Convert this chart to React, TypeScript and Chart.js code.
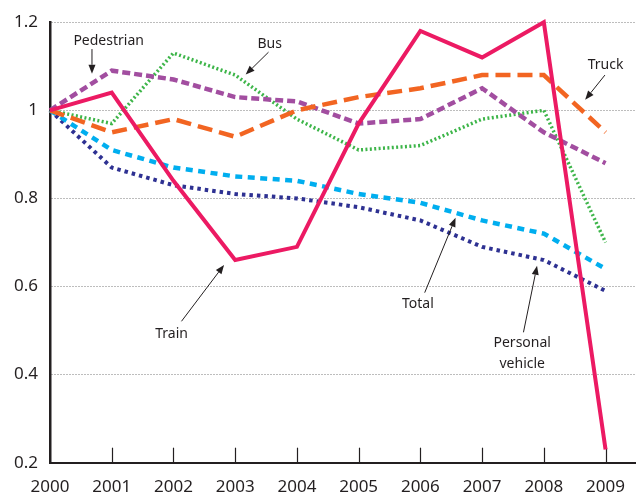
import React, { useEffect, useRef } from "react";
import { Chart, registerables } from "chart.js";

Chart.register(...registerables);

const years = [2000, 2001, 2002, 2003, 2004, 2005, 2006, 2007, 2008, 2009];
const yTickValues = [0.2, 0.4, 0.6, 0.8, 1.0, 1.2];
const yTickLabels = ["0.2", "0.4", "0.6", "0.8", "1", "1.2"];

const train = [1.0, 1.04, 0.84, 0.66, 0.69, 0.97, 1.18, 1.12, 1.2, 0.23];
const truck = [1.0, 0.95, 0.98, 0.94, 1.0, 1.03, 1.05, 1.08, 1.08, 0.95];
const pedestrian = [1.0, 1.09, 1.07, 1.03, 1.02, 0.97, 0.98, 1.05, 0.95, 0.88];
const bus = [1.0, 0.97, 1.13, 1.08, 0.98, 0.91, 0.92, 0.98, 1.0, 0.7];
const total = [1.0, 0.91, 0.87, 0.85, 0.84, 0.81, 0.79, 0.75, 0.72, 0.64];
const personalVehicle = [1.0, 0.87, 0.83, 0.81, 0.8, 0.78, 0.75, 0.69, 0.66, 0.59];

// annotations in data coordinates: text lines, text anchor, arrow from -> to
type Note = { lines: string[]; tx: number; ty: number; ax1: number; ay1: number; ax2: number; ay2: number };
const notes: Note[] = [
  { lines: ["Pedestrian"], tx: 2000.95, ty: 1.157, ax1: 2000.68, ay1: 1.139, ax2: 2000.68, ay2: 1.083 },
  { lines: ["Bus"], tx: 2003.56, ty: 1.15, ax1: 2003.54, ay1: 1.132, ax2: 2003.17, ay2: 1.081 },
  { lines: ["Truck"], tx: 2009.0, ty: 1.103, ax1: 2008.99, ay1: 1.08, ax2: 2008.67, ay2: 1.024 },
  { lines: ["Total"], tx: 2005.96, ty: 0.561, ax1: 2006.07, ay1: 0.586, ax2: 2006.57, ay2: 0.756 },
  { lines: ["Train"], tx: 2001.97, ty: 0.491, ax1: 2002.13, ay1: 0.521, ax2: 2002.82, ay2: 0.649 },
  { lines: ["Personal", "vehicle"], tx: 2007.65, ty: 0.471, ax1: 2007.67, ay1: 0.496, ax2: 2007.89, ay2: 0.647 },
];

const FONT = "'Noto Sans', 'Open Sans', sans-serif";
const INK = "#231f20";

const toPts = (vals: number[]) => vals.map((v, i) => ({ x: years[i], y: v }));

const decorPlugin = {
  id: "decor",
  beforeDatasetsDraw(chart: any) {
    const { ctx, scales } = chart;
    const xs = scales.x;
    const bottom = chart.chartArea.bottom;
    ctx.save();
    ctx.strokeStyle = INK;
    ctx.lineWidth = 1.2;
    years.slice(1).forEach((yr) => {
      const px = Math.round(xs.getPixelForValue(yr)) + 0.5;
      ctx.beginPath();
      ctx.moveTo(px, bottom);
      ctx.lineTo(px, bottom - 15);
      ctx.stroke();
    });
    ctx.restore();
  },
  afterDatasetsDraw(chart: any) {
    const { ctx, scales } = chart;
    const xs = scales.x;
    const ys = scales.y;
    ctx.save();
    ctx.fillStyle = INK;
    ctx.strokeStyle = INK;
    ctx.font = `14px ${FONT}`;
    ctx.textAlign = "center";
    ctx.textBaseline = "middle";
    notes.forEach((n) => {
      const tx = xs.getPixelForValue(n.tx);
      const ty = ys.getPixelForValue(n.ty);
      n.lines.forEach((l, i) => ctx.fillText(l, tx, ty + i * 20.6));
      const x1 = xs.getPixelForValue(n.ax1);
      const y1 = ys.getPixelForValue(n.ay1);
      const x2 = xs.getPixelForValue(n.ax2);
      const y2 = ys.getPixelForValue(n.ay2);
      const ang = Math.atan2(y2 - y1, x2 - x1);
      const hl = 9;
      const hw = 3.5;
      const bx = x2 - hl * Math.cos(ang);
      const by = y2 - hl * Math.sin(ang);
      ctx.lineWidth = 1;
      ctx.beginPath();
      ctx.moveTo(x1, y1);
      ctx.lineTo(bx, by);
      ctx.stroke();
      ctx.beginPath();
      ctx.moveTo(x2, y2);
      ctx.lineTo(bx + hw * Math.sin(ang), by - hw * Math.cos(ang));
      ctx.lineTo(bx - hw * Math.sin(ang), by + hw * Math.cos(ang));
      ctx.closePath();
      ctx.fill();
    });
    ctx.restore();
  },
};

export default function App() {
  const ref = useRef<HTMLCanvasElement | null>(null);
  useEffect(() => {
    if (!ref.current) return;
    const base = { pointRadius: 0, fill: false, borderCapStyle: "butt" as const, tension: 0, clip: false as const };
    const chart = new Chart(ref.current, {
      type: "line",
      data: {
        datasets: [
          { ...base, label: "Train", data: toPts(train), borderColor: "#ec1a63", borderWidth: 4 },
          { ...base, label: "Truck", data: toPts(truck), borderColor: "#f26522", borderWidth: 4.5, borderDash: [15, 7] },
          { ...base, label: "Pedestrian", data: toPts(pedestrian), borderColor: "#a24ea0", borderWidth: 4.5, borderDash: [8, 4] },
          { ...base, label: "Bus", data: toPts(bus), borderColor: "#3db549", borderWidth: 3.5, borderDash: [2, 2.4] },
          { ...base, label: "Total", data: toPts(total), borderColor: "#00aeef", borderWidth: 4.5, borderDash: [7, 5.5] },
          { ...base, label: "Personal vehicle", data: toPts(personalVehicle), borderColor: "#2e3192", borderWidth: 4, borderDash: [3.5, 4] },
        ],
      },
      options: {
        animation: false,
        responsive: false,
        devicePixelRatio: 1,
        layout: { padding: { top: 20, left: 0, right: 0, bottom: 0 } },
        plugins: { legend: { display: false }, tooltip: { enabled: false } },
        scales: {
          x: {
            type: "linear",
            min: 2000,
            max: 2009.49,
            afterBuildTicks: (s: any) => {
              s.ticks = years.map((v) => ({ value: v }));
            },
            afterFit: (s: any) => {
              s.height = 32.3;
            },
            ticks: {
              includeBounds: false,
              autoSkip: false,
              maxRotation: 0,
              padding: 14,
              color: INK,
              font: { family: FONT, size: 17 },
              callback: (v: any) => String(v),
            },
            grid: { display: false, drawTicks: false },
            border: { display: true, color: INK, width: 2 },
          },
          y: {
            type: "linear",
            min: 0.2,
            max: 1.2,
            afterBuildTicks: (s: any) => {
              s.ticks = yTickValues.map((v) => ({ value: v }));
            },
            afterFit: (s: any) => {
              s.width = 50;
            },
            ticks: {
              padding: 12,
              color: INK,
              font: { family: FONT, size: 17 },
              callback: (_v: any, i: number) => yTickLabels[i],
            },
            grid: { display: true, drawTicks: false, color: "#7a7a7a", lineWidth: 1 },
            border: { display: true, color: INK, width: 2.5, dash: [1, 2] },
          },
        },
      },
      plugins: [decorPlugin],
    });
    return () => chart.destroy();
  }, []);
  return (
    <div style={{ position: "absolute", left: 0, top: 0, width: 639, height: 495, background: "#fff" }}>
      <canvas ref={ref} width={639} height={495} style={{ display: "block" }} />
    </div>
  );
}
